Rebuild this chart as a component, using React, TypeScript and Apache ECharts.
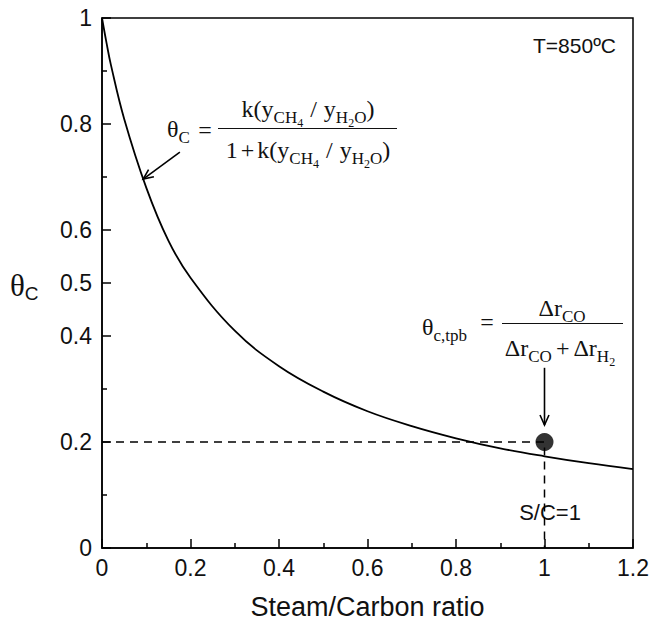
import React, { useEffect, useRef } from "react";
import * as echarts from "echarts";

// Curve: steam/carbon ratio vs theta_C
const steamCarbon = [0, 0.01, 0.02, 0.05, 0.1, 0.15, 0.2, 0.3, 0.4, 0.5, 0.6, 0.7, 0.8, 0.9, 1.0, 1.1, 1.2];
const thetaC = [1.0, 0.954, 0.912, 0.81, 0.68, 0.58, 0.51, 0.41, 0.343, 0.295, 0.258, 0.23, 0.207, 0.188, 0.173, 0.16, 0.149];

const yTickLabels = [0, 0.2, 0.4, 0.5, 0.6, 0.8, 1];
const yMinorTicks = [0.1, 0.3, 0.7, 0.9];

// Dashed guide: from axis at theta=0.2 to S/C=1 and down
const guideX = [0, 1, 1];
const guideY = [0.2, 0.2, 0];
const tpbPoint = [1, 0.2];

// Annotation arrows (data coords): from -> to
const arrowFrom = [[0.176, 0.747], [1, 0.34]];
const arrowTo = [[0.093, 0.696], [1, 0.232]];

const SERIF = '"Liberation Serif", "Times New Roman", serif';
const SANS = '"Liberation Sans", Arial, sans-serif';
const INK = "#111";

let mctx: CanvasRenderingContext2D | null = null;
function measure(t: string, fs: number, ff: string) {
  if (!mctx) mctx = document.createElement("canvas").getContext("2d");
  mctx!.font = `${fs}px ${ff}`;
  return mctx!.measureText(t).width;
}

type Part = { t?: string; fs?: number; dy?: number; ff?: string; gap?: number };
function row(parts: Part[], x: number, baseline: number, align: "left" | "center" | "right" = "left") {
  const widths = parts.map((p) => (p.gap !== undefined ? p.gap : measure(p.t!, p.fs!, p.ff || SERIF)));
  const total = widths.reduce((a, b) => a + b, 0);
  let cx = align === "left" ? x : align === "center" ? x - total / 2 : x - total;
  const els: any[] = [];
  parts.forEach((p, i) => {
    if (p.gap === undefined) {
      const fs = p.fs!;
      els.push({
        type: "text",
        x: cx,
        y: baseline + (p.dy || 0) - 0.34 * fs,
        silent: true,
        style: {
          text: p.t,
          fontSize: fs,
          fontFamily: p.ff || SERIF,
          fill: INK,
          align: "left",
          verticalAlign: "middle",
        },
      });
    }
    cx += widths[i];
  });
  return els;
}

function hline(x1: number, x2: number, y: number) {
  return { type: "line", silent: true, shape: { x1, y1: y, x2, y2: y }, style: { stroke: INK, lineWidth: 1.2 } };
}

const B = 24, S = 17, SS = 12;
const ratio = (): Part[] => [
  { t: "k(y", fs: B },
  { t: "CH", fs: S, dy: 6 },
  { t: "4", fs: SS, dy: 10 },
  { gap: 7 },
  { t: "/", fs: B },
  { gap: 7 },
  { t: "y", fs: B },
  { t: "H", fs: S, dy: 6 },
  { t: "2", fs: SS, dy: 10 },
  { t: "O", fs: S, dy: 6 },
  { t: ")", fs: B },
];

function buildGraphics() {
  const g: any[] = [];
  // y axis title
  g.push(...row([{ t: "θ", fs: 31 }, { t: "C", fs: 19, ff: SANS, dy: 4 }], 10, 296));
  // Temperature
  g.push({
    type: "text",
    x: 616,
    y: 45,
    silent: true,
    style: { text: "T=850ºC", fontSize: 21, fontFamily: SANS, fill: INK, align: "right", verticalAlign: "middle" },
  });
  // S/C=1
  g.push({
    type: "text",
    x: 550,
    y: 512,
    silent: true,
    style: { text: "S/C=1", fontSize: 22, fontFamily: SANS, fill: INK, align: "center", verticalAlign: "middle" },
  });
  // Equation 1
  g.push(...row([{ t: "θ", fs: B }, { t: "C", fs: S, dy: 6 }], 167, 137));
  g.push(...row([{ t: "=", fs: B }], 205, 138, "center"));
  g.push(hline(218, 397, 128.5));
  g.push(...row(ratio(), 308, 117, "center"));
  g.push(...row([{ t: "1", fs: B }, { gap: 3 }, { t: "+", fs: B }, { gap: 3 }, ...ratio()], 308, 158, "center"));
  // Equation 2
  g.push(...row([{ t: "θ", fs: B }, { t: "c,tpb", fs: S, dy: 6 }], 422, 335));
  g.push(...row([{ t: "=", fs: B }], 487, 330, "center"));
  g.push(hline(502, 623, 323.5));
  g.push(...row([{ t: "Δr", fs: B }, { t: "CO", fs: S, dy: 6 }], 562, 316, "center"));
  g.push(
    ...row(
      [
        { t: "Δr", fs: B },
        { t: "CO", fs: S, dy: 6 },
        { gap: 4 },
        { t: "+", fs: B },
        { gap: 4 },
        { t: "Δr", fs: B },
        { t: "H", fs: S, dy: 6 },
        { t: "2", fs: SS, dy: 10 },
      ],
      560,
      356,
      "center"
    )
  );
  return g;
}

export default function App() {
  const ref = useRef<HTMLDivElement>(null);
  useEffect(() => {
    if (!ref.current) return;
    const chart = echarts.init(ref.current, null, { renderer: "svg" });
    const axisLineStyle = { color: "#000", width: 1.5 };
    const option: any = {
      animation: false,
      backgroundColor: "#fff",
      grid: {
        left: 102,
        right: 20,
        top: 18,
        bottom: 74,
        show: true,
        borderColor: "#000",
        borderWidth: 1.5,
        backgroundColor: "transparent",
      },
      xAxis: {
        type: "value",
        min: 0,
        max: 1.2,
        interval: 0.2,
        name: "Steam/Carbon ratio",
        nameLocation: "middle",
        nameGap: 45,
        nameTextStyle: { fontSize: 27, fontFamily: SANS, color: INK },
        axisLine: { show: true, onZero: false, lineStyle: axisLineStyle },
        axisTick: { show: true, inside: true, length: 9, lineStyle: axisLineStyle },
        minorTick: { show: true, splitNumber: 2, length: 5, lineStyle: axisLineStyle },
        axisLabel: { fontSize: 23, fontFamily: SANS, color: INK, margin: 8 },
        splitLine: { show: false },
        minorSplitLine: { show: false },
      },
      yAxis: [
        {
          type: "value",
          min: 0,
          max: 1,
          interval: 0.1,
          position: "left",
          axisLine: { show: true, onZero: false, lineStyle: axisLineStyle },
          axisTick: { show: true, inside: true, length: 9, lineStyle: axisLineStyle, customValues: yTickLabels },
          axisLabel: {
            fontSize: 23,
            fontFamily: SANS,
            color: INK,
            margin: 10,
            customValues: yTickLabels,
            formatter: (v: number) => String(v),
          },
          splitLine: { show: false },
        },
        {
          type: "value",
          min: 0,
          max: 1,
          interval: 0.1,
          position: "left",
          offset: 0,
          axisLine: { show: false },
          axisTick: { show: true, inside: true, length: 5, lineStyle: axisLineStyle, customValues: yMinorTicks },
          axisLabel: { show: false },
          splitLine: { show: false },
        },
      ],
      series: [
        {
          type: "line",
          data: steamCarbon.map((s, i) => [s, thetaC[i]]),
          smooth: 0.4,
          symbol: "none",
          lineStyle: { color: "#000", width: 1.8 },
          z: 3,
        },
        {
          type: "line",
          data: guideX.map((x, i) => [x, guideY[i]]),
          symbol: "none",
          lineStyle: { color: "#000", width: 1.5, type: [8, 6] },
          z: 2,
        },
        {
          type: "scatter",
          data: [tpbPoint],
          symbol: "circle",
          symbolSize: 18,
          itemStyle: { color: "#000" },
          z: 5,
        },
        {
          type: "custom",
          data: arrowFrom.map((f, i) => [f[0], f[1], arrowTo[i][0], arrowTo[i][1]]),
          encode: { x: [0, 2], y: [1, 3] },
          renderItem: (params: any, api: any) => {
            const p1 = api.coord([api.value(0), api.value(1)]);
            const p2 = api.coord([api.value(2), api.value(3)]);
            const ang = Math.atan2(p2[1] - p1[1], p2[0] - p1[0]);
            const L = 11;
            const a = 0.42;
            const h1 = [p2[0] - L * Math.cos(ang - a), p2[1] - L * Math.sin(ang - a)];
            const h2 = [p2[0] - L * Math.cos(ang + a), p2[1] - L * Math.sin(ang + a)];
            return {
              type: "group",
              children: [
                { type: "line", shape: { x1: p1[0], y1: p1[1], x2: p2[0], y2: p2[1] }, style: { stroke: "#000", lineWidth: 1.6 } },
                { type: "polyline", shape: { points: [h1, p2, h2] }, style: { stroke: "#000", lineWidth: 1.6, fill: null } },
              ],
            };
          },
          z: 4,
        },
      ],
      graphic: buildGraphics(),
    };
    chart.setOption(option);
    return () => chart.dispose();
  }, []);
  return (
    <div
      ref={ref}
      style={{ position: "fixed", left: 0, top: 0, width: 653, height: 625, background: "#fff" }}
    />
  );
}
